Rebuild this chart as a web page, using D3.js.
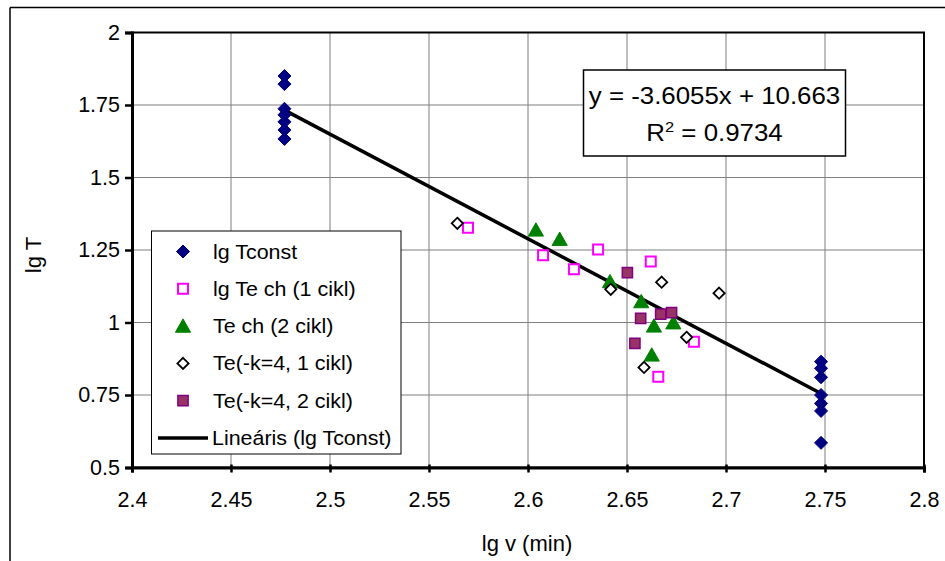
<!DOCTYPE html>
<html lang="hu">
<head>
	<meta charset="utf-8">
	<title>lg T - lg v</title>
	<script src="https://d3js.org/d3.v7.min.js"></script>
	<style>
		body { margin: 0; background: #fff; }
		text { font-family: "Liberation Sans", Arial, sans-serif; fill: #000; }
	</style>
</head>
<body>
	<div id="chart"></div>
	<script>
		// data
		const tconstX = [2.477, 2.477, 2.477, 2.477, 2.477, 2.477, 2.477,
		                 2.748, 2.748, 2.748, 2.748, 2.748, 2.748, 2.748];
		const tconstY = [1.85, 1.822, 1.737, 1.716, 1.692, 1.664, 1.633,
		                 0.865, 0.842, 0.811, 0.75, 0.721, 0.695, 0.585];
		const tech1X = [2.5697, 2.6076, 2.6354, 2.6232, 2.662, 2.6838, 2.6658];
		const tech1Y = [1.327, 1.232, 1.252, 1.184, 1.21, 0.934, 0.813];
		const tech2X = [2.604, 2.616, 2.6414, 2.6572, 2.6636, 2.6734, 2.6625];
		const tech2Y = [1.319, 1.287, 1.141, 1.072, 0.988, 0.999, 0.888];
		const tek1X = [2.5643, 2.6418, 2.6675, 2.6965, 2.6801, 2.6586];
		const tek1Y = [1.342, 1.1145, 1.139, 1.101, 0.949, 0.845];
		const tek2X = [2.6502, 2.667, 2.6725, 2.6569, 2.654];
		const tek2Y = [1.172, 1.029, 1.034, 1.0145, 0.928];
		const slope = -3.6055, intercept = 10.663, r2 = 0.9734;
		const xTicks = [2.4, 2.45, 2.5, 2.55, 2.6, 2.65, 2.7, 2.75, 2.8];
		const yTicks = [0.5, 0.75, 1, 1.25, 1.5, 1.75, 2];
		const legendNames = ["lg Tconst", "lg Te ch (1 cikl)", "Te ch (2 cikl)",
		                     "Te(-k=4, 1 cikl)", "Te(-k=4, 2 cikl)", "Lineáris (lg Tconst)"];

		const width = 945, height = 561;
		const svg = d3.select("#chart").append("svg")
			.attr("width", width).attr("height", height);

		// outer frame (only top and left visible)
		svg.append("line").attr("x1", 10).attr("y1", 7.5).attr("x2", width).attr("y2", 7.5)
			.attr("stroke", "#000").attr("stroke-width", 1.5);
		svg.append("line").attr("x1", 10).attr("y1", 7.5).attr("x2", 10).attr("y2", height)
			.attr("stroke", "#000").attr("stroke-width", 1.5);

		const x = d3.scaleLinear().domain([2.4, 2.8]).range([132, 924]);
		const y = d3.scaleLinear().domain([0.5, 2]).range([467.5, 32.5]);

		// grid
		svg.append("g").selectAll("line").data(xTicks.slice(1, -1)).enter().append("line")
			.attr("x1", d => x(d)).attr("x2", d => x(d))
			.attr("y1", y(2)).attr("y2", y(0.5))
			.attr("stroke", "#7f7f7f").attr("stroke-width", 1);
		svg.append("g").selectAll("line").data(yTicks.slice(1, -1)).enter().append("line")
			.attr("x1", x(2.4)).attr("x2", x(2.8))
			.attr("y1", d => y(d)).attr("y2", d => y(d))
			.attr("stroke", "#7f7f7f").attr("stroke-width", 1);

		// plot border
		svg.append("rect").attr("x", x(2.4)).attr("y", y(2))
			.attr("width", x(2.8) - x(2.4)).attr("height", y(0.5) - y(2))
			.attr("fill", "none").attr("stroke", "#000").attr("stroke-width", 2);

		// axes
		const xAxis = d3.axisBottom(x).tickValues(xTicks).tickSize(5).tickPadding(19)
			.tickFormat(d => d3.format("")(d));
		const yAxis = d3.axisLeft(y).tickValues(yTicks).tickSize(7).tickPadding(5)
			.tickFormat(d => d3.format("")(d));
		const gx = svg.append("g").attr("transform", "translate(0," + y(0.5) + ")").call(xAxis);
		const gy = svg.append("g").attr("transform", "translate(" + x(2.4) + ",0)").call(yAxis);
		[gx, gy].forEach(g => {
			g.select(".domain").attr("stroke", "#000").attr("stroke-width", 3);
			g.selectAll(".tick line").attr("stroke", "#000").attr("stroke-width", 2.5);
			g.selectAll(".tick text").style("font-size", "21.5px")
				.style("font-family", "'Liberation Sans', Arial, sans-serif").attr("fill", "#000");
		});
		gx.selectAll(".tick line").attr("y1", -3);

		svg.append("text").attr("x", (x(2.4) + x(2.8)) / 2 - 1).attr("y", 551)
			.attr("text-anchor", "middle").style("font-size", "22px").text("lg v (min)");
		svg.append("text").attr("transform", "translate(41,255) rotate(-90)")
			.attr("text-anchor", "middle").style("font-size", "22px").text("lg T");

		// markers
		function shape(kind, s) {
			if (kind === "diamond") return "M0," + (-s) + "L" + s + ",0L0," + s + "L" + (-s) + ",0Z";
			if (kind === "square") return "M" + (-s) + "," + (-s) + "h" + 2 * s + "v" + 2 * s + "h" + (-2 * s) + "Z";
			if (kind === "triangle") return "M0," + (-s) + "L" + s * 1.05 + "," + s * 0.85 + "L" + (-s * 1.05) + "," + s * 0.85 + "Z";
		}
		const series = [
			{xs: tconstX, ys: tconstY, kind: "diamond", s: 6.5, fill: "#000080", stroke: "#000080", sw: 1},
			{xs: tech1X, ys: tech1Y, kind: "square", s: 5, fill: "#fff", stroke: "#ff00ff", sw: 2},
			{xs: tech2X, ys: tech2Y, kind: "triangle", s: 7.2, fill: "#008000", stroke: "#008000", sw: 1},
			{xs: tek1X, ys: tek1Y, kind: "diamond", s: 5.6, fill: "#fff", stroke: "#000", sw: 1.8},
			{xs: tek2X, ys: tek2Y, kind: "square", s: 5.1, fill: "#993366", stroke: "#800080", sw: 1.5}
		];

		// regression line
		const lx = [d3.min(tconstX), d3.max(tconstX)];
		svg.append("line")
			.attr("x1", x(lx[0])).attr("y1", y(slope * lx[0] + intercept))
			.attr("x2", x(lx[1])).attr("y2", y(slope * lx[1] + intercept))
			.attr("stroke", "#000").attr("stroke-width", 3.5);

		series.forEach(sr => {
			svg.append("g").selectAll("path").data(sr.xs).enter().append("path")
				.attr("transform", (d, i) => "translate(" + x(d) + "," + y(sr.ys[i]) + ")")
				.attr("d", shape(sr.kind, sr.s))
				.attr("fill", sr.fill).attr("stroke", sr.stroke).attr("stroke-width", sr.sw);
		});

		// equation box (text slightly stretched sideways, as in the picture)
		const eq = svg.append("g");
		eq.append("rect").attr("x", 583.5).attr("y", 70).attr("width", 262).attr("height", 86)
			.attr("fill", "#fff").attr("stroke", "#000").attr("stroke-width", 1.5);
		eq.append("text").attr("transform", "translate(714.5,104) scale(1.1,1)")
			.attr("text-anchor", "middle")
			.style("font-size", "23.5px").text("y = " + slope + "x + " + intercept);
		const rt = eq.append("text").attr("transform", "translate(714.5,141) scale(1.1,1)")
			.attr("text-anchor", "middle").style("font-size", "23.5px");
		rt.append("tspan").text("R");
		rt.append("tspan").attr("dy", -9).style("font-size", "15px").text("2");
		rt.append("tspan").attr("dy", 9).text(" = " + r2);

		// legend
		const lg = svg.append("g");
		lg.append("rect").attr("x", 151.5).attr("y", 231).attr("width", 249.5).attr("height", 223)
			.attr("fill", "#fff").attr("stroke", "#000").attr("stroke-width", 1);
		legendNames.forEach((name, i) => {
			const cy = 251.5 + i * 37.3;
			if (i < 5) {
				const sr = series[i];
				lg.append("path").attr("transform", "translate(183," + cy + ")")
					.attr("d", shape(sr.kind, sr.s))
					.attr("fill", sr.fill).attr("stroke", sr.stroke).attr("stroke-width", sr.sw);
			} else {
				lg.append("line").attr("x1", 158).attr("x2", 208).attr("y1", cy).attr("y2", cy)
					.attr("stroke", "#000").attr("stroke-width", 3.5);
			}
			lg.append("text")
				.attr("transform", "translate(" + (i < 5 ? 213 : 212) + "," + (cy + 7) + ") scale(1.1,1)")
				.style("font-size", "19.5px").text(name);
		});
	</script>
</body>
</html>
